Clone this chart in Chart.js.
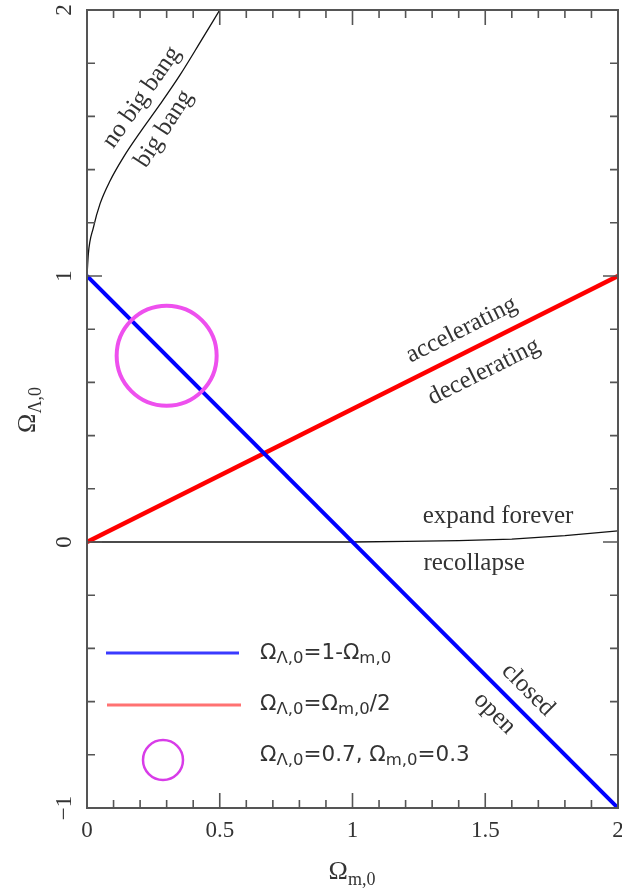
<!DOCTYPE html>
<html>
<head>
<meta charset="utf-8">
<script src="https://cdn.jsdelivr.net/npm/chart.js@4.4.1/dist/chart.umd.min.js"></script>
<style>
  html, body { margin: 0; padding: 0; background: #fff; }
  #omegaChart { display: block; }
</style>
</head>
<body>
<canvas id="omegaChart" width="622" height="891"></canvas>
<script>

// flat universe line and the accelerating / decelerating boundary
const flatM = [0, 2];
const flatL = [1, -1];
const accelM = [0, 2];
const accelL = [0, 1];

// big bang / no big bang boundary
const bangM = [0, 0.005, 0.024, 0.049, 0.087, 0.137, 0.20, 0.275, 0.35, 0.426, 0.50];
const bangL = [1, 1.083, 1.182, 1.271, 1.358, 1.446, 1.54, 1.645, 1.755, 1.878, 2.0];

// expand forever / recollapse boundary
const collapseM = [0, 1, 1.2, 1.4, 1.6, 1.8, 2];
const collapseL = [0, 0, 0.002, 0.005, 0.011, 0.024, 0.042];

// concordance model
const concordM = [0.3];
const concordL = [0.7];

const xTicks = [0, 0.5, 1, 1.5, 2];
const xTickLabels = ['0', '0.5', '1', '1.5', '2'];
const yTicks = [-1, 0, 1, 2];
const yTickLabels = ['\u22121', '0', '1', '2'];

function toPoints(xs, ys){
	return xs.map(function(x, i){ return {x: x, y: ys[i]}; });
}

// region labels, placed in data units
const regionLabels = [
	{text: 'no big bang', x: 0.206, y: 1.672, angle: -55},
	{text: 'big bang', x: 0.290, y: 1.553, angle: -57},
	{text: 'accelerating', x: 1.411, y: 0.797, angle: -26.57},
	{text: 'decelerating', x: 1.495, y: 0.640, angle: -26.57},
	{text: 'expand forever', x: 1.548, y: 0.097, angle: 0},
	{text: 'recollapse', x: 1.458, y: -0.079, angle: 0},
	{text: 'closed', x: 1.661, y: -0.556, angle: 45},
	{text: 'open', x: 1.535, y: -0.644, angle: 45}
];

const serif = '"Liberation Serif", "Times New Roman", serif';
const sans = '"DejaVu Sans", Verdana, sans-serif';
const ink = '#333';
const frameColor = '#555';

// text with a subscript: parts = [[text, isSub], ...]
function drawSubText(ctx, parts, x, y, size, subSize, family, subDrop){
	var cx = x;
	parts.forEach(function(p){
		ctx.font = (p[1] ? subSize : size) + 'px ' + family;
		ctx.fillText(p[0], cx, p[1] ? y + subDrop : y);
		cx += ctx.measureText(p[0]).width;
	});
	return cx - x;
}

function measureSubText(ctx, parts, size, subSize, family){
	var w = 0;
	parts.forEach(function(p){
		ctx.font = (p[1] ? subSize : size) + 'px ' + family;
		w += ctx.measureText(p[0]).width;
	});
	return w;
}

const frameTicks = {
	id: 'frameTicks',
	afterDraw(chart){
		const ctx = chart.ctx;
		const a = chart.chartArea;
		const xs = chart.scales.x;
		const ys = chart.scales.y;

		ctx.save();
		ctx.strokeStyle = frameColor;
		ctx.lineWidth = 2;
		ctx.strokeRect(a.left, a.top, a.right - a.left, a.bottom - a.top);

		// inward ticks on all four sides
		ctx.lineWidth = 1.6;
		ctx.beginPath();
		for (var i = 1; i < 20; i++){
			var v = i / 10;
			var len = (i % 5 === 0) ? 15 : 8;
			var px = xs.getPixelForValue(v);
			ctx.moveTo(px, a.bottom); ctx.lineTo(px, a.bottom - len);
			ctx.moveTo(px, a.top); ctx.lineTo(px, a.top + len);
		}
		for (var j = -4; j < 10; j++){
			var yv = j / 5;
			var ylen = (j % 5 === 0) ? 15 : 8;
			var py = ys.getPixelForValue(yv);
			ctx.moveTo(a.left, py); ctx.lineTo(a.left + ylen, py);
			ctx.moveTo(a.right, py); ctx.lineTo(a.right - ylen, py);
		}
		ctx.stroke();

		// tick labels
		ctx.fillStyle = ink;
		ctx.font = '23px ' + serif;
		ctx.textAlign = 'center';
		ctx.textBaseline = 'middle';
		xTicks.forEach(function(v, k){
			ctx.fillText(xTickLabels[k], xs.getPixelForValue(v), 831);
		});
		yTicks.forEach(function(v, k){
			ctx.save();
			ctx.translate(65, ys.getPixelForValue(v));
			ctx.rotate(-Math.PI / 2);
			ctx.fillText(yTickLabels[k], 0, 0);
			ctx.restore();
		});

		// axis titles
		ctx.textAlign = 'left';
		ctx.textBaseline = 'alphabetic';
		var xt = [['\u03A9', false], ['m,0', true]];
		var xw = measureSubText(ctx, xt, 26, 18, serif);
		drawSubText(ctx, xt, 352 - xw / 2, 879, 26, 18, serif, 6);

		var yt = [['\u03A9', false], ['\u039B,0', true]];
		var yw = measureSubText(ctx, yt, 26, 18, serif);
		ctx.save();
		ctx.translate(35, 410);
		ctx.rotate(-Math.PI / 2);
		drawSubText(ctx, yt, -yw / 2, 0, 26, 18, serif, 6);
		ctx.restore();

		// region labels
		ctx.font = '25px ' + serif;
		ctx.textAlign = 'center';
		ctx.textBaseline = 'middle';
		regionLabels.forEach(function(l){
			ctx.save();
			ctx.translate(xs.getPixelForValue(l.x), ys.getPixelForValue(l.y));
			ctx.rotate(l.angle * Math.PI / 180);
			ctx.fillText(l.text, 0, 0);
			ctx.restore();
		});

		// legend
		ctx.lineWidth = 3;
		ctx.strokeStyle = '#3a3aff';
		ctx.beginPath(); ctx.moveTo(106, 653); ctx.lineTo(239, 653); ctx.stroke();
		ctx.strokeStyle = '#ff7272';
		ctx.beginPath(); ctx.moveTo(107, 705); ctx.lineTo(241, 705); ctx.stroke();
		ctx.lineWidth = 2.5;
		ctx.strokeStyle = '#d83ce8';
		ctx.beginPath(); ctx.arc(163, 760, 20, 0, Math.PI * 2); ctx.stroke();

		ctx.fillStyle = ink;
		ctx.textAlign = 'left';
		ctx.textBaseline = 'alphabetic';
		drawSubText(ctx, [['\u03A9', false], ['\u039B,0', true], ['=1-\u03A9', false], ['m,0', true]], 260, 659, 21.5, 16.5, sans, 4);
		drawSubText(ctx, [['\u03A9', false], ['\u039B,0', true], ['=\u03A9', false], ['m,0', true], ['/2', false]], 260, 710, 21.5, 16.5, sans, 4);
		drawSubText(ctx, [['\u03A9', false], ['\u039B,0', true], ['=0.7, \u03A9', false], ['m,0', true], ['=0.3', false]], 260, 761, 21.5, 16.5, sans, 4);
		ctx.restore();
	}
};

const ctx = document.getElementById('omegaChart').getContext('2d');
const chart = new Chart(ctx, {
	type: 'scatter',
	data: {
		datasets: [{
			label: 'concordance',
			data: toPoints(concordM, concordL),
			pointRadius: 50,
			pointHoverRadius: 50,
			borderWidth: 4,
			pointBorderColor: '#ee50ee',
			pointBackgroundColor: 'rgba(0,0,0,0)',
			showLine: false
		}, {
			label: 'flat',
			data: toPoints(flatM, flatL),
			showLine: true,
			borderColor: '#0000ff',
			borderWidth: 4,
			pointRadius: 0
		}, {
			label: 'accel',
			data: toPoints(accelM, accelL),
			showLine: true,
			borderColor: '#ff0000',
			borderWidth: 4.5,
			pointRadius: 0
		}, {
			label: 'bang',
			data: toPoints(bangM, bangL),
			showLine: true,
			borderColor: '#111',
			borderWidth: 1.3,
			cubicInterpolationMode: 'monotone',
			pointRadius: 0
		}, {
			label: 'collapse',
			data: toPoints(collapseM, collapseL),
			showLine: true,
			borderColor: '#111',
			borderWidth: 1.3,
			pointRadius: 0
		}]
	},
	options: {
		responsive: false,
		animation: false,
		devicePixelRatio: 1,
		layout: { autoPadding: false, padding: { left: 87, right: 4, top: 10, bottom: 83 } },
		plugins: {
			legend: { display: false },
			tooltip: { enabled: false }
		},
		scales: {
			x: { type: 'linear', min: 0, max: 2, display: false },
			y: { type: 'linear', min: -1, max: 2, display: false }
		}
	},
	plugins: [frameTicks]
});

</script>
</body>
</html>
